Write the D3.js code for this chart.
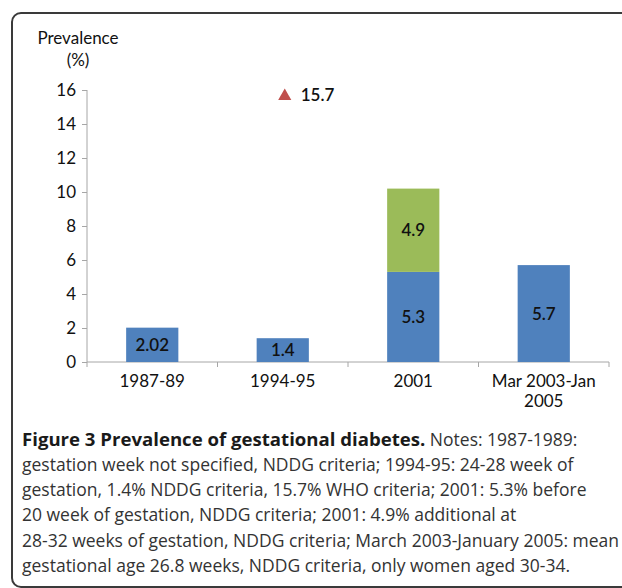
<!DOCTYPE html>
<html>
<head>
<meta charset="utf-8">
<script src="https://cdn.jsdelivr.net/npm/d3@7"></script>
<style>
  body { margin: 0; background: #fff; }
  .axis path, .axis line { stroke: #a6a6a6; }
  .axis text { font-family: Lato, "Open Sans", sans-serif; font-size: 17px; fill: #111; }
  .caption { font-family: "Open Sans", sans-serif; font-size: 17.5px; fill: #333; }
</style>
</head>
<body>
<div id="chart"></div>
<script>
// periods on the x axis
const categories = ["1987-89", "1994-95", "2001", "Mar 2003-Jan 2005"];
// NDDG criteria prevalence (%)
const nddgValues = [2.02, 1.4, 5.3, 5.7];
// 2001 additional cases found at 28-32 weeks
const additionalValues = [0, 0, 4.9, 0];
// WHO criteria point (1994-95 only)
const whoValues = [null, 15.7, null, null];
const yTicks = [0, 2, 4, 6, 8, 10, 12, 14, 16];
const captionLines = [
  "gestation week not specified, NDDG criteria; 1994-95: 24-28 week of",
  "gestation, 1.4% NDDG criteria, 15.7% WHO criteria; 2001: 5.3% before",
  "20 week of gestation, NDDG criteria; 2001: 4.9% additional at",
  "28-32 weeks of gestation, NDDG criteria; March 2003-January 2005: mean",
  "gestational age 26.8 weeks, NDDG criteria, only women aged 30-34."
];

const width = 622, height = 588;
const margin = { top: 90, left: 87, right: 13, bottom: 226 };
const labelFont = "Lato, sans-serif";

const svg = d3.select("#chart").append("svg")
  .attr("width", width)
  .attr("height", height);

// outer frame
svg.append("rect")
  .attr("x", 12).attr("y", 13)
  .attr("width", 700).attr("height", 574)
  .attr("rx", 9)
  .attr("fill", "none")
  .attr("stroke", "#3a3a3a")
  .attr("stroke-width", 2);

const data = categories.map((c, i) => ({
  cat: c, nddg: nddgValues[i], extra: additionalValues[i], who: whoValues[i]
}));

const x = d3.scaleBand()
  .domain(categories)
  .range([margin.left, width - margin.right])
  .paddingInner(0.6)
  .paddingOuter(0.3);

const y = d3.scaleLinear()
  .domain([0, 16])
  .range([height - margin.bottom, margin.top]);

// axes
const yAxis = d3.axisLeft(y).tickValues(yTicks).tickSize(5).tickPadding(6);
svg.append("g")
  .attr("class", "axis")
  .attr("transform", `translate(${margin.left},0)`)
  .call(yAxis)
  .call(g => g.select(".domain").attr("d", `M0,${y(16)}V${y(0)}`));

const step = x.step();
const xAxisG = svg.append("g")
  .attr("class", "axis")
  .attr("transform", `translate(0,${y(0)})`);
xAxisG.append("line")
  .attr("x1", margin.left).attr("x2", width - margin.right)
  .attr("stroke", "#a6a6a6");
xAxisG.selectAll("line.tick")
  .data(d3.range(categories.length + 1))
  .join("line")
  .attr("class", "tick")
  .attr("x1", i => margin.left + i * step)
  .attr("x2", i => margin.left + i * step)
  .attr("y2", 5)
  .attr("stroke", "#a6a6a6");
xAxisG.selectAll("text")
  .data(categories)
  .join("text")
  .attr("x", d => x(d) + x.bandwidth() / 2)
  .attr("y", 25)
  .attr("text-anchor", "middle")
  .each(function(d) {
    const parts = d === "Mar 2003-Jan 2005" ? ["Mar 2003-Jan", "2005"] : [d];
    d3.select(this).selectAll("tspan")
      .data(parts)
      .join("tspan")
      .attr("x", x(d) + x.bandwidth() / 2)
      .attr("dy", (p, i) => i === 0 ? 0 : 20)
      .text(p => p);
  });

// axis title
svg.append("text")
  .attr("text-anchor", "middle")
  .style("font-family", labelFont).style("font-size", "17px").style("fill", "#111")
  .selectAll("tspan")
  .data(["Prevalence", "(%)"])
  .join("tspan")
  .attr("x", 78)
  .attr("y", (d, i) => 44 + i * 22)
  .text(d => d);

// stacked bars
const stack = d3.stack().keys(["nddg", "extra"]);
const series = stack(data);
const colors = { nddg: "#4f81bd", extra: "#9bbb59" };

svg.append("g")
  .selectAll("g")
  .data(series)
  .join("g")
  .attr("fill", s => colors[s.key])
  .selectAll("rect")
  .data(s => s.filter(d => d[1] - d[0] > 0))
  .join("rect")
  .attr("x", d => x(d.data.cat))
  .attr("width", x.bandwidth())
  .attr("y", d => y(d[1]))
  .attr("height", d => y(d[0]) - y(d[1]));

// value labels inside segments
svg.append("g")
  .selectAll("g")
  .data(series)
  .join("g")
  .selectAll("text")
  .data(s => s.filter(d => d[1] - d[0] > 0).map(d => ({ d, key: s.key })))
  .join("text")
  .attr("x", o => x(o.d.data.cat) + x.bandwidth() / 2)
  .attr("y", o => (y(o.d[0]) + y(o.d[1])) / 2 + 6)
  .attr("text-anchor", "middle")
  .style("font-family", labelFont)
  .style("font-size", "17px")
  .style("font-weight", "600")
  .style("fill", "#111")
  .text(o => o.d.data[o.key]);

// WHO triangle marker
const whoPts = data.filter(d => d.who != null);
svg.append("g")
  .selectAll("path")
  .data(whoPts)
  .join("path")
  .attr("d", d3.symbol(d3.symbolTriangle, 75))
  .attr("transform", d => `translate(${x(d.cat) + x.bandwidth() / 2 + 2},${y(d.who) + 1})`)
  .attr("fill", "#c0504d");
svg.append("g")
  .selectAll("text")
  .data(whoPts)
  .join("text")
  .attr("x", d => x(d.cat) + x.bandwidth() / 2 + 18)
  .attr("y", d => y(d.who) + 6)
  .style("font-family", labelFont)
  .style("font-size", "17px")
  .style("font-weight", "600")
  .style("fill", "#111")
  .text(d => d.who);

// caption
const cap = svg.append("g").attr("class", "caption");
const first = cap.append("text").attr("x", 22).attr("y", 446);
first.append("tspan")
  .style("font-weight", "700")
  .style("font-size", "18.6px")
  .style("fill", "#1a1a1a")
  .text("Figure 3 Prevalence of gestational diabetes.");
first.append("tspan").text(" Notes: 1987-1989:");
cap.selectAll("text.line")
  .data(captionLines)
  .join("text")
  .attr("class", "line")
  .attr("x", 22)
  .attr("y", (d, i) => 471 + i * 25.2)
  .text(d => d);
</script>
</body>
</html>
